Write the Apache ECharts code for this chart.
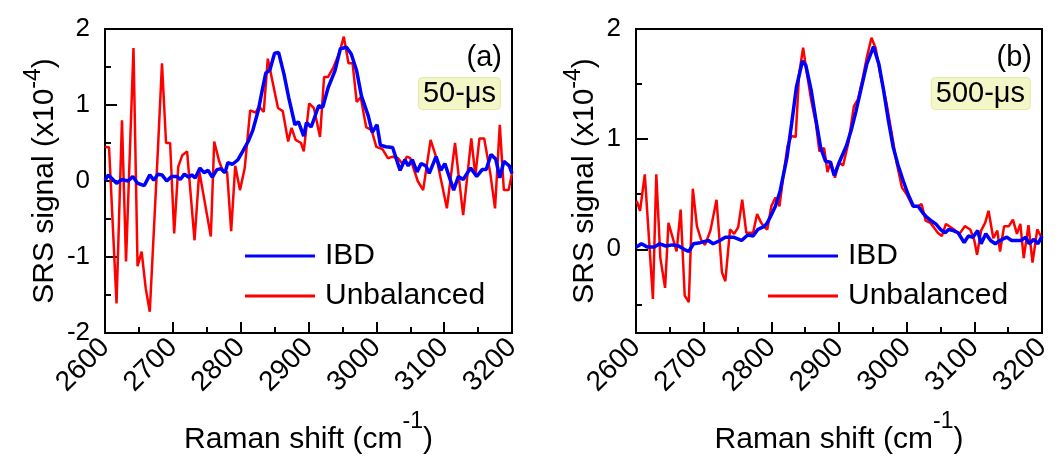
<!DOCTYPE html>
<html>
<head>
<meta charset="utf-8">
<script src="https://cdn.jsdelivr.net/npm/echarts@6/dist/echarts.min.js"></script>
<style>
  html, body { margin: 0; background: #fff; }
  #chart { width: 1062px; height: 456px; }
</style>
</head>
<body>
<div id="chart"></div>
<script>
  // panel (a) 50-us : Raman shift (cm-1) and SRS signal (x1e-4)
  const shiftA_ibd = [2600,2605,2617,2625,2634,2641,2648,2658,2666,2672,2678,2684,2691,2698,2706,2711,2717,2723,2728,2733,2740,2746,2752,2758,2765,2771,2777,2781,2788,2796,2803,2811,2818,2826,2831,2837,2843,2850,2856,2864,2871,2880,2885,2893,2897,2904,2915,2921,2929,2939,2947,2956,2963,2971,2978,2988,2994,3001,3006,3014,3024,3035,3042,3047,3053,3060,3066,3073,3078,3088,3095,3101,3114,3121,3128,3139,3148,3156,3162,3169,3176,3182,3188,3196,3200];
  const srsA_ibd = [0.01,0.08,-0.03,0.02,0,0.06,-0.03,-0.06,0.08,0.01,0.09,0.08,0,0.06,0.06,0.02,0.09,0.05,0.08,0.04,0.17,0.11,0.14,0.05,0.15,0.16,0.11,0.24,0.22,0.28,0.39,0.52,0.67,0.93,1.16,1.42,1.46,1.68,1.69,1.4,1.09,0.74,0.78,0.59,0.77,0.71,0.99,0.97,1.23,1.45,1.74,1.76,1.67,1.45,1.12,0.86,0.64,0.74,0.47,0.45,0.44,0.14,0.28,0.2,0.28,0.12,0.23,0.2,0.1,0.32,0.14,0.23,-0.12,0.06,0.02,0.17,0.06,0.15,0.15,0.35,0.29,0.04,0.26,0.2,0.1];
  const shiftA_unb = [2600,2606,2617,2625,2631,2642,2648,2654,2660,2666,2678,2684,2690,2696,2702,2708,2714,2721,2732,2739,2756,2761,2768,2774,2780,2786,2792,2799,2806,2814,2822,2827,2834,2840,2843,2855,2862,2870,2875,2881,2889,2893,2901,2908,2917,2923,2929,2937,2946,2952,2959,2965,2971,2977,2985,2993,3000,3009,3017,3024,3032,3039,3045,3050,3061,3069,3080,3089,3104,3116,3121,3128,3140,3146,3152,3159,3168,3175,3182,3188,3195,3200];
  const srsA_unb = [0.45,0.44,-1.61,0.80,-1.06,1.75,-1.12,-0.93,-1.41,-1.72,0.41,1.55,0.5,0.5,-0.69,0.19,0.34,0.39,-0.78,0.13,-0.73,0.52,0.27,0.12,0.12,-0.66,0.2,-0.12,0.17,0.93,0.9,0.98,0.91,1.61,1.48,0.96,0.92,0.52,0.7,0.54,0.5,0.39,1.02,0.96,0.58,1.37,1.37,1.5,1.7,1.9,1.55,1.55,1.04,1.1,0.71,0.67,0.45,0.42,0.3,0.32,0.3,0.22,0.32,0.3,0.0,-0.12,0.54,0.29,-0.36,0.5,0.1,-0.45,0.56,0.07,0.56,0.56,0.1,-0.36,0.74,-0.12,-0.12,0.1];

  // panel (b) 500-us
  const shiftB_ibd = [2600,2603,2608,2617,2627,2635,2644,2654,2663,2671,2678,2685,2695,2707,2714,2724,2732,2744,2756,2765,2773,2780,2790,2794,2799,2806,2813,2823,2830,2837,2846,2851,2859,2866,2873,2880,2887,2893,2901,2911,2918,2925,2932,2941,2951,2959,2966,2973,2980,2987,2995,3002,3010,3017,3024,3030,3036,3043,3050,3057,3062,3069,3076,3085,3091,3098,3105,3110,3117,3124,3131,3138,3148,3155,3162,3169,3176,3181,3188,3194,3200];
  const srsB_ibd = [0.02,0.03,0.05,0.02,0.02,0.05,0.03,0.04,0.03,0.0,-0.02,0.05,0.06,0.08,0.05,0.08,0.11,0.11,0.08,0.13,0.12,0.18,0.21,0.24,0.3,0.39,0.53,0.83,1.14,1.47,1.71,1.67,1.44,1.17,0.92,0.8,0.79,0.67,0.8,0.94,1.08,1.25,1.44,1.68,1.84,1.68,1.44,1.17,0.93,0.77,0.62,0.5,0.39,0.39,0.33,0.29,0.26,0.23,0.18,0.15,0.18,0.17,0.15,0.06,0.12,0.11,0.17,0.05,0.14,0.08,0.05,0.08,0.11,0.08,0.08,0.08,0.11,0.05,0.09,0.05,0.12];
  const shiftB_unb = [2601,2606,2613,2625,2630,2636,2643,2648,2660,2666,2672,2678,2684,2690,2696,2702,2710,2719,2727,2732,2739,2745,2751,2757,2763,2773,2779,2785,2790,2794,2800,2806,2812,2818,2824,2830,2836,2841,2847,2852,2859,2866,2871,2878,2883,2888,2894,2900,2906,2914,2922,2928,2935,2941,2948,2954,2961,2970,2978,2985,2993,3000,3009,3016,3022,3028,3035,3046,3052,3058,3070,3078,3086,3094,3100,3104,3110,3116,3121,3128,3134,3138,3144,3151,3157,3163,3168,3173,3180,3186,3193,3200];
  const srsB_unb = [0.44,0.35,0.68,-0.45,0.68,-0.08,-0.35,0.24,-0.02,0.36,-0.42,-0.48,0.55,0.21,0.09,0.04,0.17,0.45,-0.21,-0.29,0.18,0.14,0.2,0.45,0.15,0.15,0.32,0.24,0.2,0.18,0.39,0.47,0.39,0.68,0.94,1.03,1.02,1.59,1.83,1.62,1.35,1.14,0.89,0.92,0.7,0.8,0.65,0.79,0.76,0.97,1.3,1.36,1.55,1.74,1.92,1.83,1.59,1.33,1.05,0.79,0.56,0.5,0.39,0.39,0.41,0.26,0.24,0.15,0.12,0.23,0.18,0.14,0.21,0.18,0.08,-0.05,0.17,0.24,0.35,0.1,0.17,-0.02,0.21,0.21,0.27,0.14,0.23,-0.08,0.22,-0.12,0.18,0.1];

  const yTicksB = [0, 1, 2];
  const yMinorB = [-0.5, 0.5, 1.5];

  const FONT = 'Arial, "Liberation Sans", sans-serif';
  const RED = '#ff0000';
  const BLUE = '#0000ff';

  function zip(xs, ys) {
    return xs.map(function (x, i) { return [x, ys[i]]; });
  }

  function nameRich(raise) {
    return {
      a: { fontSize: 30, fontFamily: FONT, color: '#000', verticalAlign: 'middle' },
      s: { fontSize: 23, fontFamily: FONT, color: '#000', verticalAlign: 'middle', padding: [0, 0, raise, 0] }
    };
  }

  function xAxisFor(idx) {
    return {
      type: 'value', gridIndex: idx, min: 2600, max: 3200, interval: 100,
      name: '{a|Raman shift (cm}{s|-1}{a|)}',
      nameLocation: 'middle', nameGap: 77,
      nameTextStyle: { rich: nameRich(36) },
      axisLine: { onZero: false, lineStyle: { color: '#000', width: 2 } },
      axisTick: { inside: true, length: 11, lineStyle: { color: '#000', width: 2 } },
      minorTick: { show: true, splitNumber: 2, length: 6, lineStyle: { color: '#000', width: 2 } },
      axisLabel: { rotate: 45, fontSize: 28, fontFamily: FONT, color: '#000', margin: 10,
        formatter: function (v) { return String(v); } },
      splitLine: { show: false }
    };
  }

  const yName = '{a|SRS signal (x10}{s|-4}{a|)}';

  function legendFor(left) {
    return {
      left: left, top: 241, padding: 0, orient: 'vertical', selectedMode: false,
      data: ['IBD', 'Unbalanced'], icon: 'rect',
      itemWidth: 70, itemHeight: 3, itemGap: 10,
      textStyle: { fontSize: 30, lineHeight: 30, fontFamily: FONT, color: '#000', padding: [0, 0, 0, 5] }
    };
  }

  function tagStyle() {
    return { fontSize: 29, lineHeight: 31, fontWeight: 'normal', fontFamily: FONT, color: '#000' };
  }

  const chart = echarts.init(document.getElementById('chart'));
  chart.setOption({
    animation: false,
    backgroundColor: '#fff',
    grid: [
      { left: 105, top: 29, width: 407, height: 304, outerBoundsMode: 'none', show: true, borderColor: '#000', borderWidth: 2 },
      { left: 636, top: 29, width: 406, height: 304, outerBoundsMode: 'none', show: true, borderColor: '#000', borderWidth: 2 }
    ],
    title: [
      { text: '(a)', right: 560, top: 42, padding: 0, textStyle: tagStyle() },
      { text: '50-μs', right: 561, top: 77, padding: [1, 5, 1, 5], backgroundColor: '#f3f6c6', borderColor: '#e2e8a6', borderWidth: 1, borderRadius: 4,
        textStyle: tagStyle() },
      { text: '(b)', right: 30, top: 42, padding: 0, textStyle: tagStyle() },
      { text: '500-μs', right: 32, top: 77, padding: [1, 5, 1, 5], backgroundColor: '#f3f6c6', borderColor: '#e2e8a6', borderWidth: 1, borderRadius: 4,
        textStyle: tagStyle() }
    ],
    legend: [legendFor(245), legendFor(768)],
    xAxis: [xAxisFor(0), xAxisFor(1)],
    yAxis: [
      {
        type: 'value', gridIndex: 0, min: -2, max: 2, interval: 1,
        name: yName, nameLocation: 'middle', nameGap: 38,
        nameTextStyle: { rich: nameRich(22) },
        axisLine: { onZero: false, lineStyle: { color: '#000', width: 2 } },
        axisTick: { inside: true, length: 12, lineStyle: { color: '#000', width: 2 } },
        minorTick: { show: true, splitNumber: 2, length: 6, lineStyle: { color: '#000', width: 2 } },
        axisLabel: { fontSize: 26, fontFamily: FONT, color: '#000', margin: 15 },
        splitLine: { show: false }
      },
      {
        type: 'value', gridIndex: 1, min: -0.76, max: 2, position: 'left',
        name: yName, nameLocation: 'middle', nameGap: 29,
        nameTextStyle: { rich: nameRich(22) },
        axisLine: { onZero: false, lineStyle: { color: '#000', width: 2 } },
        axisTick: { inside: true, length: 12, customValues: yTicksB, lineStyle: { color: '#000', width: 2 } },
        axisLabel: { fontSize: 26, fontFamily: FONT, color: '#000', margin: 15, customValues: yTicksB },
        splitLine: { show: false }
      },
      {
        type: 'value', gridIndex: 1, min: -0.76, max: 2, position: 'left', offset: 0,
        axisLine: { show: false, onZero: false },
        axisTick: { inside: true, length: 6, customValues: yMinorB, lineStyle: { color: '#000', width: 2 } },
        axisLabel: { show: false },
        splitLine: { show: false }
      }
    ],
    series: [
      { name: 'Unbalanced', type: 'line', xAxisIndex: 0, yAxisIndex: 0, data: zip(shiftA_unb, srsA_unb),
        symbol: 'none', color: RED, lineStyle: { color: RED, width: 2.5 }, z: 2 },
      { name: 'IBD', type: 'line', xAxisIndex: 0, yAxisIndex: 0, data: zip(shiftA_ibd, srsA_ibd),
        symbol: 'none', color: BLUE, lineStyle: { color: BLUE, width: 3.5 }, z: 3 },
      { name: 'Unbalanced', type: 'line', xAxisIndex: 1, yAxisIndex: 1, data: zip(shiftB_unb, srsB_unb),
        symbol: 'none', color: RED, lineStyle: { color: RED, width: 2.5 }, z: 2 },
      { name: 'IBD', type: 'line', xAxisIndex: 1, yAxisIndex: 1, data: zip(shiftB_ibd, srsB_ibd),
        symbol: 'none', color: BLUE, lineStyle: { color: BLUE, width: 3.5 }, z: 3 }
    ]
  });
</script>
</body>
</html>
